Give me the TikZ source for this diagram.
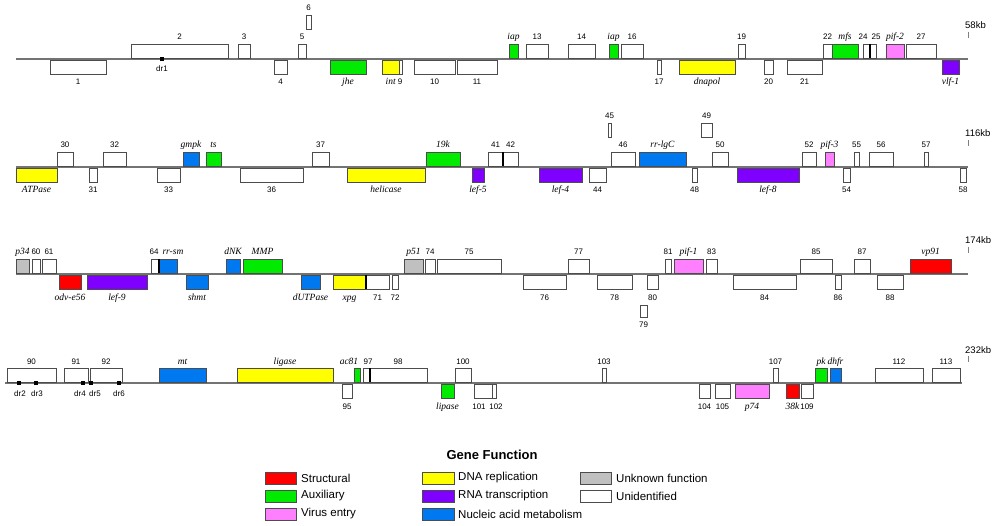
\documentclass[tikz,border=0pt]{standalone}
\usepackage{fontspec}
\setmainfont{Liberation Sans}
\newfontfamily\serf{Liberation Serif}
\definecolor{cS}{RGB}{255,0,0}
\definecolor{cA}{RGB}{0,235,0}
\definecolor{cV}{RGB}{255,128,255}
\definecolor{cD}{RGB}{255,255,0}
\definecolor{cR}{RGB}{128,0,255}
\definecolor{cN}{RGB}{0,120,240}
\definecolor{cU}{RGB}{192,192,192}
\newcommand\g[1]{{\serf\itshape\fontsize{9.5}{10}\selectfont #1}}
\newcommand\gt[4]{\draw[box,fill=#3] (#1,\ly-15) rectangle (#2,\ly-1); \node[lab,anchor=base] at ({(#1+#2)/2},\ly-19) {#4};}
\newcommand\gb[4]{\draw[box,fill=#3] (#1,\ly+1) rectangle (#2,\ly+15); \node[lab,anchor=base] at ({(#1+#2)/2},\ly+26) {#4};}
\newcommand\lt[2]{\node[lab,anchor=base] at (#1,\ly-19) {#2};}
\newcommand\lb[2]{\node[lab,anchor=base] at (#1,\ly+26) {#2};}
\newcommand\dr[3]{\fill (#1-2,\ly-2) rectangle (#1+2,\ly+2); \node[lab,anchor=base] at (#2,\ly+13) {#3};}
\newcommand\axis[3]{\draw[gline] (#1,\ly) -- (#2,\ly); \draw[gray] (968,\ly-27) -- (968,\ly-21); \node[anchor=base west,inner sep=0,font=\fontsize{9.5}{10}\selectfont] at (965,\ly-30) {#3};}
\begin{document}
\begin{tikzpicture}[x=1pt,y=-1pt,
  box/.style={draw=black!70,line width=0.7pt},
  gline/.style={draw=black!55,line width=1.4pt},
  lab/.style={inner sep=0,font=\fontsize{8}{9}\selectfont},
  sw/.style={draw=black!70,line width=0.7pt},
  lt/.style={anchor=west,inner sep=0,font=\fontsize{11.5}{12}\selectfont}]
\useasboundingbox (0,0) rectangle (1000,526);
% Row 1
\def\ly{59}
\axis{16}{968}{58kb}
\gb{50}{106}{white}{1}
\gt{131}{228}{white}{2}
\dr{162}{162}{dr1}
\gt{238}{250}{white}{3}
\gb{274}{287}{white}{4}
\gt{298}{306}{white}{5}
\draw[box,fill=white] (306,15) rectangle (311,29); \node[lab,anchor=base] at (308.5,11) {6};
\gb{330}{366}{cA}{\g{jhe}}
\gb{382}{399}{cD}{} \gb{399}{402}{white}{}
\node[lab,anchor=base] at (394,\ly+26) {\g{int} 9};
\gb{414}{455}{white}{10}
\gb{457}{497}{white}{11}
\gt{509}{518}{cA}{\g{iap}}
\gt{526}{548}{white}{13}
\gt{568}{595}{white}{14}
\gt{609}{618}{cA}{\g{iap}}
\gt{621}{643}{white}{16}
\gb{657}{661}{white}{17}
\gb{679}{735}{cD}{\g{dnapol}}
\gt{738}{745}{white}{19}
\gb{764}{773}{white}{20}
\gb{787}{822}{white}{21}
\gt{823}{832}{white}{22}
\gt{832}{858}{cA}{\g{mfs}}
\gt{863}{870}{white}{} \gt{870}{876}{white}{}
\draw[line width=1.2pt] (870,\ly-15) -- (870,\ly-1);
\lt{863}{24} \lt{876}{25}
\gt{886}{904}{cV}{\g{pif-2}}
\gt{906}{936}{white}{27}
\gb{942}{959}{cR}{\g{vlf-1}}
% Row 2
\def\ly{167}
\axis{16}{968}{116kb}
\gb{16}{57}{cD}{\g{ATPase}}
\gt{57}{73}{white}{30}
\gb{89}{97}{white}{31}
\gt{103}{126}{white}{32}
\gb{157}{180}{white}{33}
\gt{183}{199}{cN}{\g{gmpk}}
\gt{206}{221}{cA}{\g{ts}}
\gb{240}{303}{white}{36}
\gt{312}{329}{white}{37}
\gb{347}{425}{cD}{\g{helicase}}
\gt{426}{460}{cA}{\g{19k}}
\gb{472}{484}{cR}{\g{lef-5}}
\gt{488}{503}{white}{41}
\gt{503}{518}{white}{42}
\draw[line width=1.2pt] (503,\ly-15) -- (503,\ly-1);
\gb{539}{582}{cR}{\g{lef-4}}
\gb{589}{606}{white}{44}
\draw[box,fill=white] (608,123) rectangle (611,137); \node[lab,anchor=base] at (609.5,119) {45};
\gt{611}{635}{white}{46}
\gt{639}{686}{cN}{\g{rr-lgC}}
\gb{692}{697}{white}{48}
\draw[box,fill=white] (701,123) rectangle (712,137); \node[lab,anchor=base] at (706.5,119) {49};
\gt{712}{728}{white}{50}
\gb{737}{799}{cR}{\g{lef-8}}
\gt{802}{816}{white}{52}
\gt{825}{834}{cV}{\g{pif-3}}
\gb{843}{850}{white}{54}
\gt{854}{859}{white}{55}
\gt{869}{893}{white}{56}
\gt{924}{928}{white}{57}
\gb{960}{966}{white}{58}
% Row 3
\def\ly{274}
\axis{16}{968}{174kb}
\gt{16}{29}{cU}{\g{p34}}
\gt{32}{40}{white}{60}
\gt{42}{56}{white}{61}
\gb{59}{81}{cS}{\g{odv-e56}}
\gb{87}{147}{cR}{\g{lef-9}}
\gt{151}{159}{white}{} \gt{159}{177}{cN}{}
\draw[line width=1.2pt] (159,\ly-15) -- (159,\ly-1);
\lt{154}{64} \lt{173}{\g{rr-sm}}
\gb{186}{208}{cN}{\g{shmt}}
\gt{226}{240}{cN}{\g{dNK}}
\gt{243}{282}{cA}{\g{MMP}}
\gb{301}{320}{cN}{\g{dUTPase}}
\gb{333}{366}{cD}{\g{xpg}}
\gb{366}{389}{white}{71}
\draw[line width=1.2pt] (366,\ly+1) -- (366,\ly+15);
\gb{392}{398}{white}{72}
\gt{404}{423}{cU}{\g{p51}}
\gt{425}{435}{white}{74}
\gt{437}{501}{white}{75}
\gb{523}{566}{white}{76}
\gt{568}{589}{white}{77}
\gb{597}{632}{white}{78}
\draw[box,fill=white] (640,305) rectangle (647,317); \node[lab,anchor=base] at (643.5,327) {79};
\gb{647}{658}{white}{80}
\gt{665}{671}{white}{81}
\gt{674}{703}{cV}{\g{pif-1}}
\gt{706}{717}{white}{83}
\gb{733}{796}{white}{84}
\gt{800}{832}{white}{85}
\gb{835}{841}{white}{86}
\gt{854}{870}{white}{87}
\gb{877}{903}{white}{88}
\gt{910}{951}{cS}{\g{vp91}}
% Row 4
\def\ly{383}
\axis{5}{962}{232kb}
\gt{7}{56}{white}{90}
\gt{64}{88}{white}{91}
\gt{90}{122}{white}{92}
\dr{19}{20}{dr2} \dr{36}{37}{dr3} \dr{83}{80}{dr4} \dr{91}{95}{dr5} \dr{119}{119}{dr6}
\gt{159}{206}{cN}{\g{mt}}
\gt{237}{333}{cD}{\g{ligase}}
\gb{342}{352}{white}{95}
\gt{354}{360}{cA}{}
\gt{363}{370}{white}{} \gt{370}{427}{white}{}
\draw[line width=1.2pt] (370,\ly-15) -- (370,\ly-1);
\lt{349}{\g{ac81}} \lt{368}{97} \lt{398}{98}
\gt{455}{471}{white}{100}
\gb{441}{454}{cA}{\g{lipase}}
\gb{474}{492}{white}{} \gb{492}{496}{white}{}
\lb{479}{101} \lb{496}{102}
\gt{602}{606}{white}{103}
\gb{699}{710}{white}{104}
\gb{715}{730}{white}{105}
\gb{735}{769}{cV}{\g{p74}}
\gt{773}{778}{white}{107}
\gb{786}{799}{cS}{\g{38k}}
\gb{801}{813}{white}{109}
\gt{815}{827}{cA}{\g{pk}}
\gt{830}{841}{cN}{\g{dhfr}}
\gt{875}{923}{white}{112}
\gt{932}{960}{white}{113}
% Legend
\node[font=\bfseries\fontsize{13}{14}\selectfont] (title) at (492,455) {Gene Function};
\draw[sw,fill=cS] (265,472) rectangle (296,484); \node[lt] (l1) at (301,478) {Structural};
\draw[sw,fill=cA] (265,490) rectangle (296,502); \node[lt] (l2) at (301,496) {Auxiliary};
\draw[sw,fill=cV] (265,508) rectangle (296,520); \node[lt] (l3) at (301,514) {Virus entry};
\draw[sw,fill=cD] (422,472) rectangle (454,484); \node[lt] (l4) at (458,478) {DNA replication};
\draw[sw,fill=cR] (422,490) rectangle (454,502); \node[lt] (l5) at (458,496) {RNA transcription};
\draw[sw,fill=cN] (422,508) rectangle (454,520); \node[lt] (l6) at (458,514) {Nucleic acid metabolism};
\draw[sw,fill=cU] (580,472) rectangle (611,484); \node[lt] (l7) at (616,478) {Unknown function};
\draw[sw,fill=white] (580,490) rectangle (611,502); \node[lt] (l8) at (616,496) {Unidentified};
\end{tikzpicture}
\end{document}
